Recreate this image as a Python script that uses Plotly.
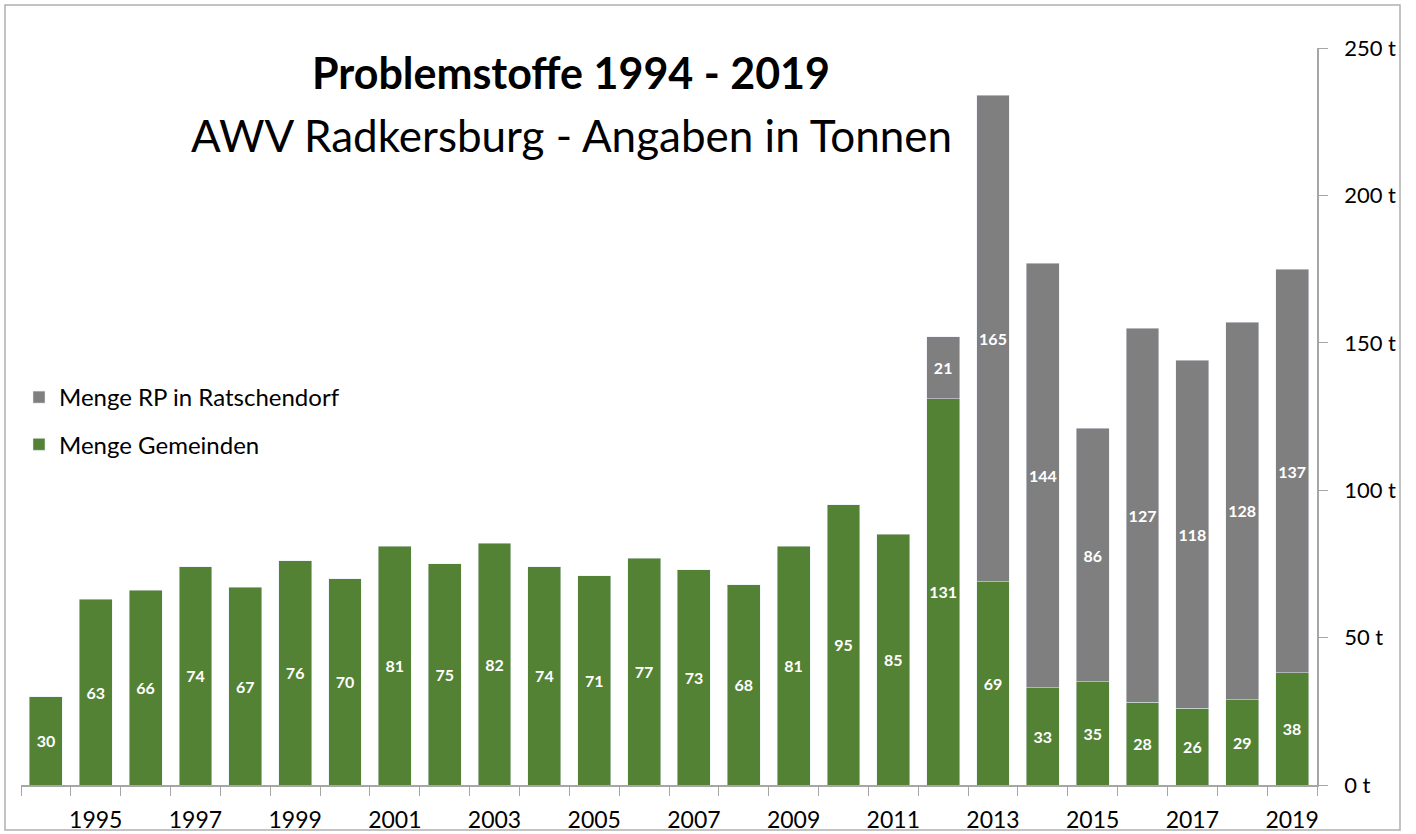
import plotly.graph_objects as go

years = list(range(1994, 2020))
gemeinden = [30, 63, 66, 74, 67, 76, 70, 81, 75, 82, 74, 71, 77, 73, 68, 81, 95, 85, 131, 69, 33, 35, 28, 26, 29, 38]
rp = [None] * 18 + [21, 165, 144, 86, 127, 118, 128, 137]
x_tick_years = list(range(1995, 2020, 2))
y_ticks = [0, 50, 100, 150, 200, 250]

GREEN = "#548235"
GRAY = "#7f7f7f"
FONT = "Lato"

fig = go.Figure()
fig.add_trace(go.Bar(
    x=years, y=gemeinden, name="Menge Gemeinden", marker_color=GREEN,
    width=0.66, texttemplate="<b>%{y}</b>", textposition="inside", textangle=0,
    constraintext="none",
    insidetextanchor="middle", textfont=dict(color="white", size=16, family=FONT),
    legendgroup="g", legendrank=2,
))
fig.add_trace(go.Bar(
    x=years, y=rp, name="Menge RP in Ratschendorf", marker_color=GRAY,
    width=0.66, texttemplate="<b>%{y}</b>", textposition="inside", textangle=0,
    constraintext="none",
    insidetextanchor="middle", textfont=dict(color="white", size=16, family=FONT),
    legendgroup="r", legendrank=1,
))

W, H = 1416, 834
ml, mr, mt, mb = 21, 99, 48, 49
pw, ph = W - ml - mr, H - mt - mb

def px(x):
    return (x - ml) / pw

def py(y):
    return 1 - (y - mt) / ph

fig.update_layout(
    width=W, height=H,
    margin=dict(l=ml, r=mr, t=mt, b=mb),
    barmode="stack",
    plot_bgcolor="white", paper_bgcolor="white",
    font=dict(family=FONT, color="black", size=22),
    showlegend=True,
    legend=dict(
        x=px(19), y=py(375), xanchor="left", yanchor="top",
        traceorder="grouped", tracegroupgap=13,
        font=dict(size=24, family=FONT), bgcolor="rgba(0,0,0,0)",
        itemwidth=30,
    ),
    xaxis=dict(
        range=[1993.5, 2019.5], tickmode="array", tickvals=x_tick_years,
        ticktext=[str(y) for y in x_tick_years], ticks="", showgrid=False,
        showline=True, linecolor="#a6a6a6", linewidth=1.5,
        tickfont=dict(size=23, family=FONT), zeroline=False,
        ticklabelstandoff=14, automargin=False,
        minor=dict(tickmode="array", tickvals=[y - 0.5 for y in range(1994, 2021)],
                   ticks="outside", ticklen=9, tickcolor="#a6a6a6", showgrid=False),
    ),
    yaxis=dict(
        range=[0, 250], side="right", tickmode="array", tickvals=y_ticks,
        ticktext=[f"{v} t" for v in y_ticks], ticks="outside", ticklen=9,
        tickcolor="#a6a6a6", showgrid=False, showline=True, linecolor="#a6a6a6",
        linewidth=1.5, tickfont=dict(size=22, family=FONT), zeroline=False,
        ticklabelstandoff=12, automargin=False,
    ),
    annotations=[
        dict(text="<b>Problemstoffe 1994 - 2019</b>", xref="paper", yref="paper",
             x=px(571), y=py(73), xanchor="center", yanchor="middle", showarrow=False,
             font=dict(size=43, family=FONT, color="black")),
        dict(text="AWV Radkersburg - Angaben in Tonnen", xref="paper", yref="paper",
             x=px(571), y=py(135), xanchor="center", yanchor="middle", showarrow=False,
             font=dict(size=44, family=FONT, color="black")),
    ],
    shapes=[
        dict(type="rect", xref="paper", yref="paper", x0=px(5), x1=px(1400),
             y0=py(830), y1=py(5), line=dict(color="#b0b0b0", width=1.5), layer="below"),
    ],
)

fig.write_html("out.html", config={"displayModeBar": False},
               post_script="document.body.style.margin='0';")
